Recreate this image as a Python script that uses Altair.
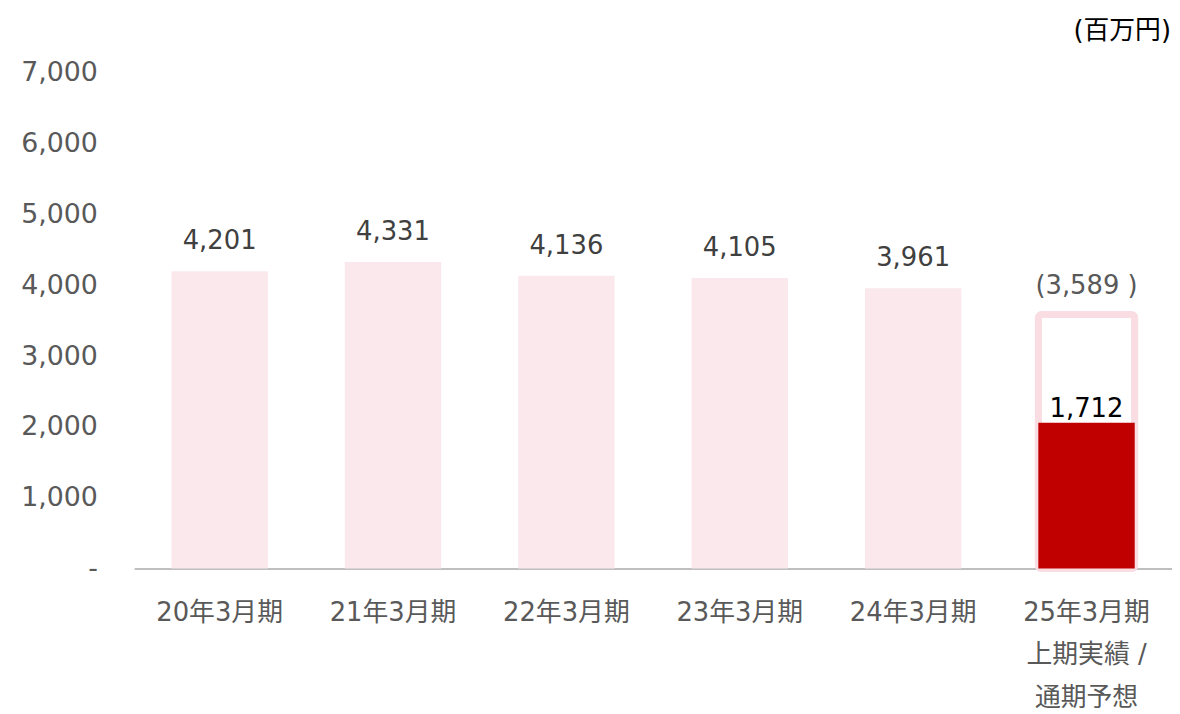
import altair as alt
import pandas as pd

categories = ["20年3月期", "21年3月期", "22年3月期", "23年3月期", "24年3月期", "25年3月期\n上期実績 /\n通期予想"]
actual_values = [4201, 4331, 4136, 4105, 3961]
forecast_value = 3589
h1_value = 2060          # height as drawn in the picture
h1_label = "1,712"
forecast_label = "(3,589 )"

FONT = "DejaVu Sans, Noto Sans CJK JP"
PINK = "#FAE8EC"
PINK_OUT = "#F9DDE3"
RED = "#C00000"

past = pd.DataFrame({
    "cat": categories[:5],
    "value": actual_values,
    "label": [f"{v:,}" for v in actual_values],
})
fc = pd.DataFrame({"cat": [categories[5]], "value": [forecast_value], "label": [forecast_label]})
h1 = pd.DataFrame({"cat": [categories[5]], "value": [h1_value], "label": [h1_label]})

xenc = alt.X(
    "cat:N", sort=categories, title=None,
    scale=alt.Scale(paddingInner=0.444, paddingOuter=0.215),
    axis=alt.Axis(
        labelAngle=0, ticks=False, domainColor="#BFBFBF", domainWidth=2,
        labelColor="#595959", labelFontSize=26, labelFont=FONT,
        labelPadding=44, labelBaseline="middle", labelLineHeight=43,
        labelExpr="split(datum.label, '\\n')",
    ),
)
yenc = alt.Y(
    "value:Q", title=None,
    scale=alt.Scale(domain=[0, 7000], nice=False),
    axis=alt.Axis(
        values=[0, 1000, 2000, 3000, 4000, 5000, 6000, 7000],
        grid=False, domain=False, ticks=False,
        labelColor="#595959", labelFontSize=27, labelFont=FONT,
        labelPadding=37,
        labelExpr="datum.value == 0 ? '-' : format(datum.value, ',')",
    ),
)

bars_past = alt.Chart(past).mark_bar(color=PINK).encode(x=xenc, y=yenc)
bar_fc = alt.Chart(fc).mark_bar(fill="white", stroke=PINK_OUT, strokeWidth=7, cornerRadius=3).encode(x=xenc, y=yenc)
bar_h1 = alt.Chart(h1).mark_bar(color=RED).encode(x=xenc, y=yenc)

txt_past = alt.Chart(past).mark_text(font=FONT, fontSize=26, color="#404040", baseline="alphabetic", dy=-22).encode(
    x=xenc, y=yenc, text="label:N")
txt_fc = alt.Chart(fc).mark_text(font=FONT, fontSize=26, color="#595959", baseline="alphabetic", dy=-21).encode(
    x=xenc, y=yenc, text="label:N")
txt_h1 = alt.Chart(h1).mark_text(font=FONT, fontSize=26, color="#000000", baseline="alphabetic", dy=-6).encode(
    x=xenc, y=yenc, text="label:N")

unit = alt.Chart(pd.DataFrame({"t": ["(百万円)"]})).mark_text(
    font=FONT, fontSize=26, color="#000000", align="right", baseline="middle"
).encode(x=alt.value(1044), y=alt.value(-42), text="t:N")

chart = alt.layer(bars_past, bar_fc, bar_h1, txt_past, txt_fc, txt_h1, unit).properties(
    width=1045, height=499,
    padding={"left": 127, "top": 63, "right": 0, "bottom": 141},
    autosize=alt.AutoSizeParams(type="none"),
).configure_view(stroke=None)

chart.save("out.html", embed_options={"renderer": "svg", "actions": False})
